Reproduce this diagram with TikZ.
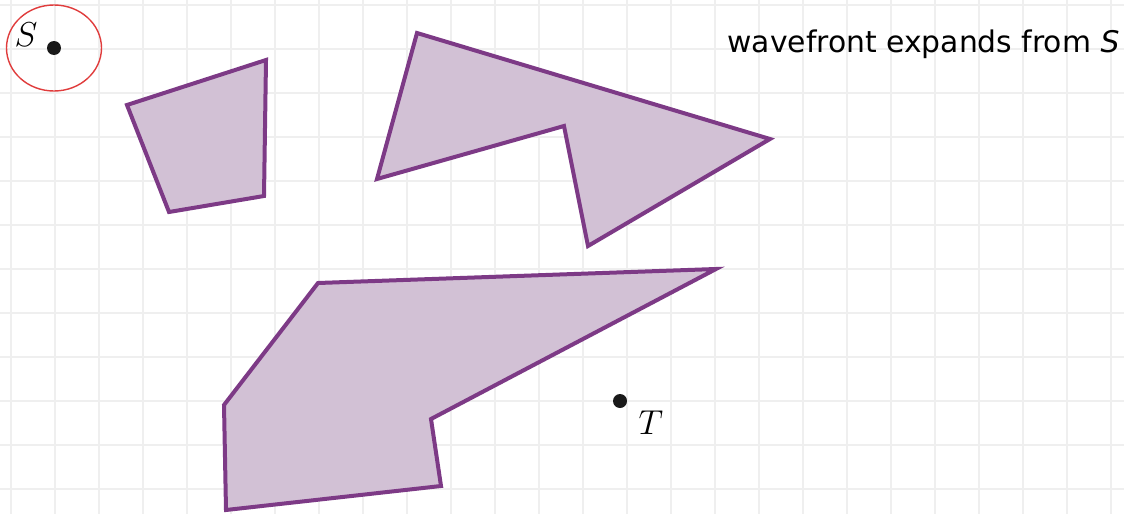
\documentclass[tikz,border=0pt]{standalone}
\usepackage{fontspec}
\usepackage{amsmath}
\newfontfamily\notefont{DejaVu Sans}
\usetikzlibrary{positioning}

\definecolor{gridgray}{HTML}{EFEFEF}
\definecolor{obsfill}{HTML}{D2C1D5}
\definecolor{obsline}{HTML}{7D3A86}
\definecolor{wavered}{HTML}{E03C3C}

\begin{document}
\begin{tikzpicture}[
    x=0.5pt, y=-0.5pt,
    every node/.style={inner sep=0pt},
    obstacle/.style={fill=obsfill, draw=obsline, line width=2pt, line join=miter},
    pointdot/.style={circle, fill=black!90, minimum size=7pt},
    ptlabel/.style={font=\fontsize{18}{20}\selectfont}
]

% Fondo y cuadricula
\fill[white] (0,0) rectangle (1124,514);
\useasboundingbox (0,0) rectangle (1124,514);
\foreach \x in {11,55,...,1111}
    \draw[gridgray, line width=1pt] (\x,0) -- (\x,514);
\foreach \y in {5,49,...,489}
    \draw[gridgray, line width=1pt] (0,\y) -- (1124,\y);

% Obstaculos
\draw[obstacle] (127,105) -- (266,60) -- (264,196) -- (169,212) -- cycle;
\draw[obstacle] (417,33) -- (770,139) -- (588,246) -- (564,126)
    -- (377,179) -- cycle;
\draw[obstacle] (318,283) -- (716,269) -- (431,419) -- (441,486)
    -- (226,510) -- (224,405) -- cycle;

% Puntos
\node[pointdot] (S) at (54,48) {};
\node[pointdot] (T) at (620,401) {};
\node[ptlabel] (Slabel) at (26,35) {$S$};
\node[ptlabel] (Tlabel) at (651,423) {$T$};

% Frente de onda
\draw[wavered, line width=0.7pt] (S) ellipse [x radius=47.5, y radius=43];

\node[anchor=base west, font=\notefont\fontsize{14.9}{17}\selectfont]
    (note) at (727,52) {wavefront expands from \textit{S}};

\end{tikzpicture}
\end{document}
